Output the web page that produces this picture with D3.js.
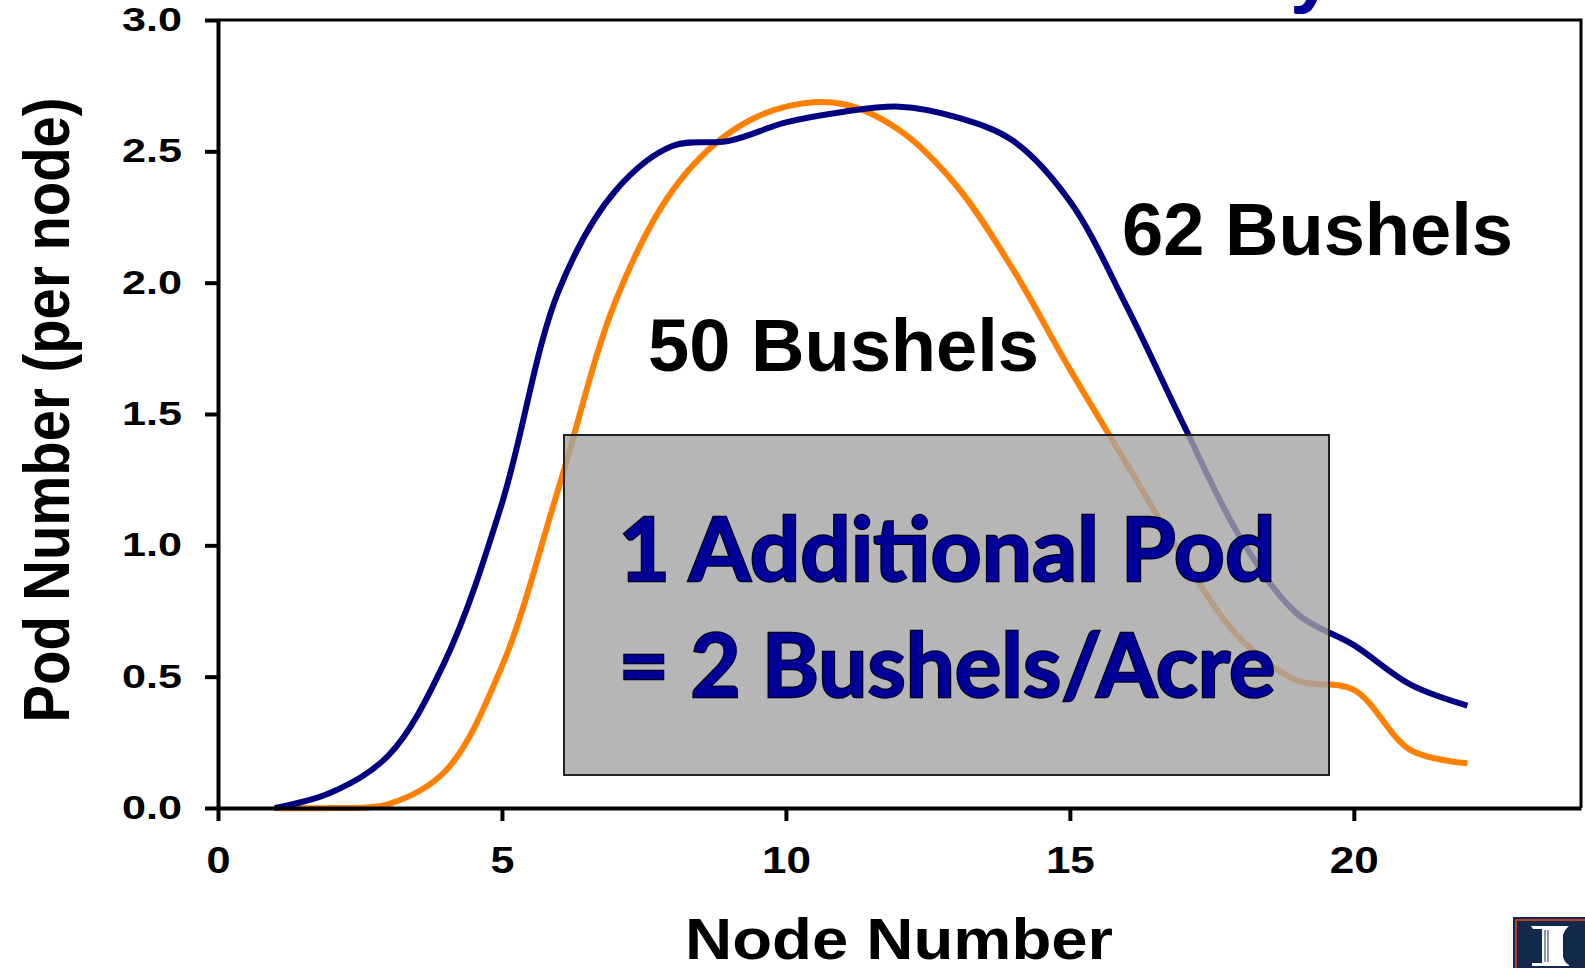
<!DOCTYPE html>
<html>
<head>
<meta charset="utf-8">
<script src="https://cdnjs.cloudflare.com/ajax/libs/d3/7.8.5/d3.min.js"></script>
<style>
  body { margin: 0; background: #fff; overflow: hidden; }
</style>
</head>
<body>
<div id="chart"></div>
<script>

// pod number per node
var nodes   = [1, 2, 3, 4, 5, 6, 7, 8, 9, 10, 11, 12, 13, 14, 15, 16, 17, 18, 19, 20, 21, 22];
var pods62  = [0.0, 0.06, 0.20, 0.56, 1.16, 1.97, 2.35, 2.52, 2.54, 2.61, 2.65, 2.67, 2.63, 2.54, 2.31, 1.91, 1.46, 1.03, 0.74, 0.62, 0.47, 0.39];
var pods50  = [0.0, 0.0, 0.015, 0.14, 0.54, 1.22, 1.93, 2.35, 2.57, 2.67, 2.68, 2.58, 2.37, 2.05, 1.67, 1.31, 0.95, 0.645, 0.485, 0.45, 0.22, 0.17];
var seriesNames = ["62 Bushels", "50 Bushels"];
var xTicks = [0, 5, 10, 15, 20];
var yTicks = [0, 0.5, 1.0, 1.5, 2.0, 2.5, 3.0];
var noteLines = ["1 Additional Pod", "= 2 Bushels/Acre"];

var margin = {top: 20, right: 4, bottom: 160, left: 218},
    width = 1585 - margin.left - margin.right,
    height = 968 - margin.top - margin.bottom;

var font = "'Liberation Sans', Arial, sans-serif";

var root = d3.select("#chart")
    .append("svg")
      .attr("width", 1585)
      .attr("height", 968)
      .style("display", "block");

var svg = root.append("g")
    .attr("transform", "translate(" + margin.left + "," + margin.top + ")");

var x = d3.scaleLinear().domain([0, 24]).range([0, width]);
var y = d3.scaleLinear().domain([0, 3]).range([height, 0]);

var series = [
  {name: seriesNames[0], color: "#000080", values: nodes.map(function(n, i) { return {node: n, pods: pods62[i]}; })},
  {name: seriesNames[1], color: "#ff8000", values: nodes.map(function(n, i) { return {node: n, pods: pods50[i]}; })}
];

var line = d3.line()
    .x(function(d) { return x(d.node); })
    .y(function(d) { return y(d.pods); })
    .curve(d3.curveCatmullRom.alpha(0.5));

// lines first, the grey box sits on top of them
svg.selectAll(".series")
    .data(series.slice().reverse())
    .enter()
    .append("path")
      .attr("class", "series")
      .attr("d", function(d) { return line(d.values); })
      .attr("fill", "none")
      .attr("stroke", function(d) { return d.color; })
      .attr("stroke-width", 6)
      .attr("stroke-linejoin", "round");

// frame (top + right)
root.append("path")
    .attr("d", "M218,20H1581V808")
    .attr("fill", "none")
    .attr("stroke", "#000")
    .attr("stroke-width", 3);

var yAxis = svg.append("g")
    .call(d3.axisLeft(y).tickValues(yTicks).tickFormat(d3.format(".1f"))
      .tickSize(13).tickSizeOuter(0).tickPadding(23));

var xAxis = svg.append("g")
    .attr("transform", "translate(0," + height + ")")
    .call(d3.axisBottom(x).tickValues(xTicks).tickFormat(d3.format("d"))
      .tickSize(13).tickSizeOuter(0));

[yAxis, xAxis].forEach(function(ax) {
  ax.select(".domain").attr("stroke", "#000").attr("stroke-width", 4);
  ax.selectAll(".tick line").attr("stroke", "#000").attr("stroke-width", 4);
  ax.selectAll(".tick text")
    .attr("fill", "#000")
    .style("font-family", font)
    .style("font-weight", "bold")
    .attr("lengthAdjust", "spacingAndGlyphs");
});

yAxis.selectAll(".tick text")
    .style("font-size", "33px")
    .attr("textLength", 60);
xAxis.selectAll(".tick text")
    .style("font-size", "36px")
    .attr("y", 65)
    .attr("dy", 0)
    .attr("textLength", function(d) { return d < 10 ? 24 : 49; });

// axis titles
root.append("text")
    .attr("x", 899)
    .attr("y", 959)
    .attr("text-anchor", "middle")
    .attr("textLength", 428)
    .attr("lengthAdjust", "spacingAndGlyphs")
    .style("font-family", font)
    .style("font-weight", "bold")
    .style("font-size", "57px")
    .text("Node Number");

root.append("text")
    .attr("transform", "translate(69,410) rotate(-90)")
    .attr("text-anchor", "middle")
    .attr("textLength", 625)
    .attr("lengthAdjust", "spacingAndGlyphs")
    .style("font-family", font)
    .style("font-weight", "bold")
    .style("font-size", "64px")
    .text("Pod Number (per node)");

// series labels
var labelPos = [{x: 1122, y: 255}, {x: 648, y: 371}];
root.selectAll(".serieslabel")
    .data(seriesNames)
    .enter()
    .append("text")
      .attr("class", "serieslabel")
      .attr("x", function(d, i) { return labelPos[i].x; })
      .attr("y", function(d, i) { return labelPos[i].y; })
      .attr("textLength", 391)
      .attr("lengthAdjust", "spacingAndGlyphs")
      .style("font-family", font)
      .style("font-weight", "bold")
      .style("font-size", "74px")
      .text(function(d) { return d; });

// grey note box
root.append("rect")
    .attr("x", 564)
    .attr("y", 435)
    .attr("width", 765)
    .attr("height", 340)
    .attr("fill", "rgb(164,164,164)")
    .attr("fill-opacity", 0.8)
    .attr("stroke", "#222")
    .attr("stroke-width", 2);

root.selectAll(".note")
    .data(noteLines)
    .enter()
    .append("text")
      .attr("class", "note")
      .attr("x", 947)
      .attr("y", function(d, i) { return 581 + i * 116; })
      .attr("text-anchor", "middle")
      .attr("textLength", 657)
      .attr("lengthAdjust", "spacingAndGlyphs")
      .attr("fill", "#000099")
      .attr("stroke", "#000022")
      .attr("stroke-width", 2.5)
      .attr("paint-order", "stroke")
      .style("font-family", "Lato, 'Open Sans', sans-serif")
      .style("font-weight", "bold")
      .style("font-size", "88px")
      .text(function(d) { return d; });

// bit of the slide title peeking in at the top
root.append("text")
    .attr("x", 1290)
    .attr("y", -3)
    .attr("fill", "#000099")
    .style("font-family", font)
    .style("font-weight", "bold")
    .style("font-size", "80px")
    .text("y");

// university logo, bottom right corner
var logo = root.append("g").attr("transform", "translate(1513,917)");
logo.append("rect")
    .attr("width", 80).attr("height", 60)
    .attr("fill", "#13294b");
logo.append("rect")
    .attr("x", 3).attr("y", 3).attr("width", 80).attr("height", 60)
    .attr("fill", "none")
    .attr("stroke", "#e84a27")
    .attr("stroke-width", 1.5);
logo.append("path")
    .attr("d", "M18,9H56Q52,12 50,18V40Q52,46 56,48V49H19V46H29V12H20Z")
    .attr("fill", "#fff");
logo.append("path")
    .attr("d", "M32,13V45M35,13V45")
    .attr("stroke", "#13294b")
    .attr("stroke-width", 1);

</script>
</body>
</html>
